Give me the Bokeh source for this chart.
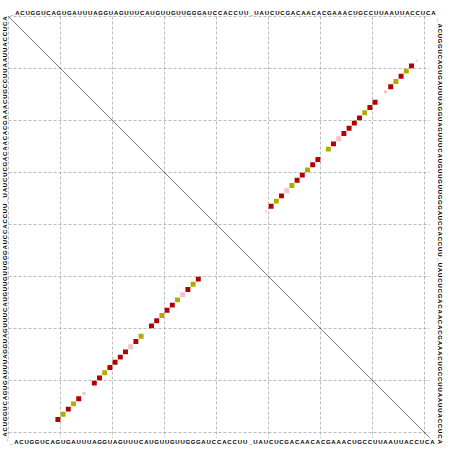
import math
from bokeh.plotting import figure
from bokeh.models import Range1d, ColumnDataSource
from bokeh.core.properties import value
from bokeh.embed import file_html
from bokeh.resources import INLINE

# ---------------- data ----------------
sequence = "_ACUGGUCAGUGAUUUAGGUAGUUUCAUGUUGUUGGGAUCCACCUU_UAUCUCGACAACACGAAACUGCCUUAAUUACCUCA"
n_cells = 81
grid_ticks = [0, 10, 20, 30, 40, 50, 60, 70, 80]

# lower-left triangle: MFE structure pairs (i < j), 0-based cells
mfe_i = [9, 10, 11, 12, 13, 14, 16, 17, 18, 19, 20, 21, 22, 23, 24, 25,
         27, 28, 29, 30, 31, 32, 33, 34, 35, 36]
mfe_j = [77, 76, 75, 74, 73, 72, 70, 69, 68, 67, 66, 65, 64, 63, 62, 61,
         59, 58, 57, 56, 55, 54, 53, 52, 51, 50]
mfe_kind = ["r", "y", "r", "y", "r", "p", "r", "r", "y", "r", "r", "r", "r", "p", "r", "y",
            "r", "r", "y", "r", "r", "y", "p", "r", "y", "r"]
mfe_size = [0.95, 0.95, 0.95, 0.95, 0.95, 0.55, 0.95, 0.95, 0.95, 0.95, 0.95, 0.95, 0.95,
            0.95, 0.95, 0.95, 0.95, 0.95, 0.95, 0.95, 0.95, 0.95, 0.95, 0.95, 0.95, 0.95]

# upper-right triangle: pair probabilities (i < j)
prob_i = [8] + mfe_i + [37]
prob_j = [78] + mfe_j + [49]
prob_kind = ["p"] + mfe_kind + ["p"]
prob_size = [0.35] + mfe_size + [0.35]

kind_colors = {"r": "#B30000", "y": "#B3AA00", "p": "#F5C2C2"}

# ---------------- layout ----------------
N = n_cells
W, H = 452, 451
C = 5.2          # pixels per cell
MX, MY = 8, 16   # pixel position of the matrix corner

x0 = -MX / C
y0 = -MY / C

p = figure(width=W, height=H, output_backend="svg", toolbar_location=None,
           x_range=Range1d(x0, x0 + W / C), y_range=Range1d(y0 + H / C, y0),
           min_border=0, min_border_left=0, min_border_right=0,
           min_border_top=0, min_border_bottom=0)
p.axis.visible = False
p.xgrid.visible = False
p.ygrid.visible = False
p.outline_line_color = None
p.background_fill_color = "white"
p.border_fill_color = "white"

# grid lines every 10 positions
p.segment(x0=grid_ticks, y0=[0] * len(grid_ticks), x1=grid_ticks, y1=[N] * len(grid_ticks),
          line_color="#a8a8a8", line_width=0.8, line_dash="3 2")
p.segment(x0=[0] * len(grid_ticks), y0=grid_ticks, x1=[N] * len(grid_ticks), y1=grid_ticks,
          line_color="#a8a8a8", line_width=0.8, line_dash="3 2")

# main diagonal
p.segment(x0=[0], y0=[0], x1=[N], y1=[N], line_color="#404040", line_width=0.7)

# lower triangle: x = i, y = j
lower = ColumnDataSource(dict(
    x=[i + 0.5 for i in mfe_i], y=[j + 0.5 for j in mfe_j],
    s=mfe_size, c=[kind_colors[k] for k in mfe_kind]))
p.rect(x="x", y="y", width="s", height="s", fill_color="c", line_color=None, source=lower)

# upper triangle: x = j, y = i
upper = ColumnDataSource(dict(
    x=[j + 0.5 for j in prob_j], y=[i + 0.5 for i in prob_i],
    s=prob_size, c=[kind_colors[k] for k in prob_kind]))
p.rect(x="x", y="y", width="s", height="s", fill_color="c", line_color=None, source=upper)

# sequence labels on all four sides
chars = list(sequence)
L = len(chars)
font = value("Liberation Sans")
fs = "6px"
common = dict(text_font=font, text_font_size=fs, text_font_style="bold", text_align="center",
              text_baseline="middle", text_color="black")
p.text(x=[k + 0.7 for k in range(L)], y=[-0.7] * L, text=chars, **common)
p.text(x=[k + 0.5 for k in range(L)], y=[N + 0.75] * L, text=chars, **common)
p.text(x=[-0.75] * L, y=[N + 0.4 - k for k in range(L)], text=chars,
       angle=math.pi / 2, **common)
p.text(x=[N + 1.9] * L, y=[k + 0.75 for k in range(L)], text=chars,
       angle=-math.pi / 2, **common)

open("out.html", "w").write(file_html(p, INLINE))
